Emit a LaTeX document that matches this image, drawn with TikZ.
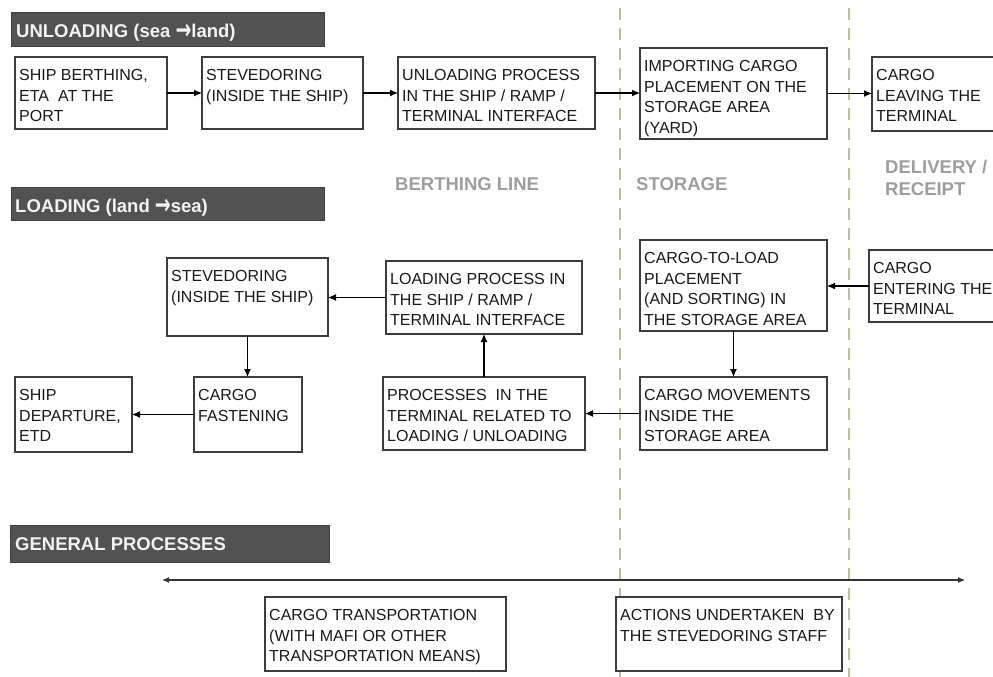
\documentclass[tikz,border=0pt]{standalone}
\usepackage{fontspec}
\setmainfont{Liberation Sans}
\newfontfamily\symf{DejaVu Sans}
\usetikzlibrary{arrows.meta}
\definecolor{hdr}{RGB}{82,82,82}
\definecolor{hdrtxt}{RGB}{242,242,242}
\definecolor{zone}{RGB}{158,158,158}
\definecolor{dashc}{RGB}{196,188,150}
\definecolor{boxc}{RGB}{60,60,60}
\definecolor{txtc}{RGB}{25,25,25}
\tikzset{
  boxnode/.style={draw=boxc, line width=1.1pt, fill=white, anchor=north west, inner sep=0pt, outer sep=0pt},
  txt/.style={anchor=north west, inner sep=0pt, align=left, text=txtc, font=\fontsize{16}{20.5}\selectfont},
  conn/.style={-{Latex[length=8pt,width=7pt]}, line width=1.1pt, black},
  dconn/.style={{Latex[length=7pt,width=6pt]}-{Latex[length=7pt,width=6pt]}, line width=1.1pt, black!80},
  hdrbar/.style={fill=hdr, draw=black!75, line width=0.8pt, anchor=north west, inner sep=0pt, outer sep=0pt},
  hdrtext/.style={text=hdrtxt, font=\bfseries\fontsize{18.5}{20}\selectfont, anchor=base west, inner sep=0pt},
  zonelbl/.style={text=zone, font=\bfseries\fontsize{18.5}{22}\selectfont, anchor=base west, inner sep=0pt, align=left},
  sepline/.style={dashc, line width=2.6pt, dash pattern=on 12pt off 8pt}
}
% name, x1, y1, x2, y2, text
\newcommand\pbox[6]{%
  \node[boxnode, minimum width={#4pt-#2pt}, minimum height={#5pt-#3pt}] (#1) at (#2,#3) {};
  \node[txt] (#1-t) at ([shift={(4pt,-9pt)}]#1.north west) {\strut #6};
}
\newcommand\harrow{{\symf\bfseries\fontsize{19}{20}\selectfont\raisebox{-2.5pt}{\scalebox{1}[1.5]{→}}}}
\begin{document}
\begin{tikzpicture}[x=1pt,y=-1pt]
\clip (0,0) rectangle (993,677);
\fill[white] (0,0) rectangle (993,677);

% zone separators
\coordinate (s1a) at (620,8);
\coordinate (s1b) at (620,677);
\coordinate (s2a) at (849,8);
\coordinate (s2b) at (849,677);
\draw[sepline] (s1a) -- (s1b);
\draw[sepline] (s2a) -- (s2b);

% header bars
\node[hdrbar, minimum width=313pt, minimum height=34pt] (h1) at (11,12) {};
\node[hdrtext] (h1t) at (16,37.5) {UNLOADING (sea \harrow land)};
\node[hdrbar, minimum width=313pt, minimum height=33pt] (h2) at (11,187) {};
\node[hdrtext] (h2t) at (15,212) {LOADING (land \harrow sea)};
\node[hdrbar, minimum width=319pt, minimum height=37pt] (h3) at (10,525) {};
\node[hdrtext] (h3t) at (15,550) {GENERAL PROCESSES};

% zone labels
\node[zonelbl] (z1) at (395,190) {BERTHING LINE};
\node[zonelbl] (z2) at (636,190) {STORAGE};
\node[zonelbl] (z3) at (885,195) {DELIVERY /\\RECEIPT};

% unloading row
\pbox{u1}{15}{57}{167}{129}{SHIP BERTHING,\\ETA\ \ AT THE\\PORT}
\pbox{u2}{202}{57}{363}{129}{STEVEDORING\\(INSIDE THE SHIP)}
\pbox{u3}{398}{57}{595}{129}{UNLOADING PROCESS\\IN THE SHIP / RAMP /\\TERMINAL INTERFACE}
\pbox{u4}{640}{48}{827}{139}{IMPORTING CARGO\\PLACEMENT ON THE\\STORAGE AREA\\(YARD)}
\pbox{u5}{872}{57}{1010}{131}{CARGO\\LEAVING THE\\TERMINAL}

% loading rows
\pbox{l1}{167}{258}{328}{336}{STEVEDORING\\(INSIDE THE SHIP)}
\pbox{l2}{386}{261}{582}{334}{LOADING PROCESS IN\\THE SHIP / RAMP /\\TERMINAL INTERFACE}
\pbox{l3}{640}{240}{827}{331}{CARGO-TO-LOAD\\PLACEMENT\\(AND SORTING) IN\\THE STORAGE AREA}
\pbox{l4}{869}{250}{1010}{322}{CARGO\\ENTERING THE\\TERMINAL}
\pbox{m1}{15}{377}{132}{452}{SHIP\\DEPARTURE,\\ETD}
\pbox{m2}{194}{377}{302}{452}{CARGO\\FASTENING}
\pbox{m3}{383}{377}{585}{450}{PROCESSES\ \ IN THE\\TERMINAL RELATED TO\\LOADING / UNLOADING}
\pbox{m4}{640}{377}{827}{450}{CARGO MOVEMENTS\\INSIDE THE\\STORAGE AREA}

% general processes
\coordinate (gl) at (162,580);
\coordinate (gr) at (965,580);
\draw[dconn] (gl) -- (gr);
\pbox{g1}{265}{597}{506}{671}{CARGO TRANSPORTATION\\(WITH MAFI OR OTHER\\TRANSPORTATION MEANS)}
\pbox{g2}{616}{597}{842}{671}{ACTIONS UNDERTAKEN\ \ BY\\THE STEVEDORING STAFF}

% connectors unloading
\draw[conn] (u1.east) -- (u1.east -| u2.west);
\draw[conn] (u2.east) -- (u2.east -| u3.west);
\draw[conn] (u3.east) -- (u3.east -| u4.west);
\draw[conn] (u4.east) -- (u4.east -| u5.west);

% connectors loading
\draw[conn] (l4.west) -- (l4.west -| l3.east);
\draw[conn] (l3.south) -- (l3.south |- m4.north);
\draw[conn] (m4.west) -- (m4.west -| m3.east);
\draw[conn] (m3.north) -- (m3.north |- l2.south);
\draw[conn] (l2.west) -- (l2.west -| l1.east);
\draw[conn] (l1.south) -- (l1.south |- m2.north);
\draw[conn] (m2.west) -- (m2.west -| m1.east);
\end{tikzpicture}
\end{document}
